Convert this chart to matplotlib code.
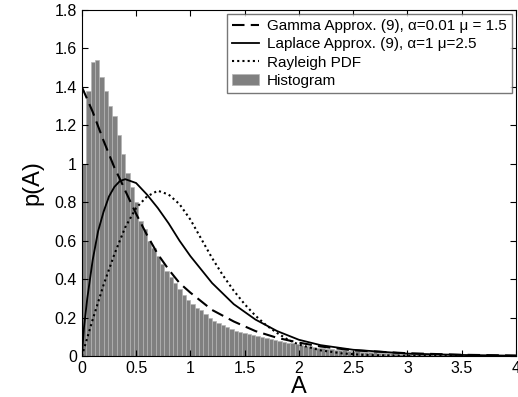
import numpy as np
import matplotlib
matplotlib.use("Agg")
import matplotlib.pyplot as plt

plt.rcParams['font.family'] = ['Liberation Sans', 'DejaVu Sans']

# histogram bar heights, bins of width 0.04 from 0 to 4
bin_width = 0.04
hist_heights = [
    1.00, 1.38, 1.53, 1.54, 1.45, 1.38, 1.30, 1.25, 1.15, 1.05,
    0.95, 0.88, 0.80, 0.70, 0.66, 0.60, 0.56, 0.52, 0.48, 0.44,
    0.41, 0.38, 0.35, 0.32, 0.29, 0.27, 0.25, 0.24, 0.22, 0.20,
    0.185, 0.17, 0.16, 0.15, 0.14, 0.13, 0.125, 0.12, 0.115, 0.11,
    0.105, 0.10, 0.095, 0.09, 0.085, 0.08, 0.075, 0.07, 0.066, 0.062,
    0.058, 0.054, 0.050, 0.047, 0.044, 0.041, 0.038, 0.036, 0.034, 0.032,
    0.030, 0.028, 0.026, 0.025, 0.023, 0.022, 0.020, 0.019, 0.018, 0.017,
    0.016, 0.015, 0.014, 0.013, 0.012, 0.012, 0.011, 0.010, 0.010, 0.009,
    0.009, 0.008, 0.008, 0.007, 0.007, 0.007, 0.006, 0.006, 0.006, 0.005,
    0.005, 0.005, 0.005, 0.004, 0.004, 0.004, 0.004, 0.003, 0.003, 0.003,
]

# Gamma approximation (dashed)
gamma_a = [0, 0.1, 0.2, 0.3, 0.36, 0.4, 0.5, 0.6, 0.7, 0.8, 0.9, 1.0, 1.2, 1.4,
           1.6, 1.8, 2.0, 2.2, 2.5, 3.0, 3.5, 4.0]
gamma_p = [1.40, 1.27, 1.12, 0.98, 0.91, 0.86, 0.74, 0.63, 0.53, 0.45, 0.38, 0.33,
           0.24, 0.18, 0.13, 0.095, 0.07, 0.05, 0.03, 0.015, 0.007, 0.003]

# Laplace approximation (solid)
lap_a = [0, 0.02, 0.05, 0.1, 0.15, 0.2, 0.25, 0.3, 0.35, 0.4, 0.5, 0.6, 0.7, 0.8,
         0.9, 1.0, 1.2, 1.4, 1.6, 1.8, 2.0, 2.2, 2.5, 3.0, 3.5, 4.0]
lap_p = [0, 0.15, 0.30, 0.50, 0.65, 0.75, 0.83, 0.88, 0.91, 0.92, 0.90, 0.84, 0.77,
         0.69, 0.60, 0.52, 0.38, 0.27, 0.19, 0.13, 0.085, 0.057, 0.033, 0.013, 0.006, 0.002]

# Rayleigh PDF (dotted)
ray_a = [0, 0.1, 0.2, 0.3, 0.4, 0.5, 0.6, 0.7, 0.8, 0.9, 1.0, 1.1, 1.2, 1.3, 1.4,
         1.5, 1.6, 1.7, 1.8, 1.9, 2.0, 2.2, 2.4, 2.6, 3.0, 4.0]
ray_p = [0, 0.19, 0.37, 0.53, 0.67, 0.77, 0.83, 0.86, 0.84, 0.79, 0.71, 0.61, 0.51,
         0.42, 0.34, 0.27, 0.21, 0.16, 0.12, 0.085, 0.06, 0.03, 0.014, 0.006, 0.001, 0]

fig = plt.figure(figsize=(5.18, 3.97), dpi=100)
ax = fig.add_axes([0.158, 0.103, 0.838, 0.872])

lefts = np.arange(len(hist_heights)) * bin_width
bars = ax.bar(lefts, hist_heights, width=bin_width, align='edge', color='#808080',
              edgecolor='#b4b4b4', linewidth=0.5)
l1, = ax.plot(gamma_a, gamma_p, color='black', linestyle=(0, (6, 3)), linewidth=1.5)
l2, = ax.plot(lap_a, lap_p, color='black', linestyle='-', linewidth=1.3)
l3, = ax.plot(ray_a, ray_p, color='black', linestyle=(0, (1, 1.5)), linewidth=1.5)

ax.set_xlim(0, 4)
ax.set_ylim(0, 1.8)
ax.set_xticks(np.arange(0, 4.01, 0.5))
ax.set_xticklabels(['0', '0.5', '1', '1.5', '2', '2.5', '3', '3.5', '4'])
ax.set_yticks(np.arange(0, 1.81, 0.2))
ax.set_yticklabels(['0', '0.2', '0.4', '0.6', '0.8', '1', '1.2', '1.4', '1.6', '1.8'])
ax.tick_params(direction='in', top=True, right=True, labelsize=11.5, length=4)
ax.set_xlabel('A', fontsize=17, labelpad=0)
ax.set_ylabel('p(A)', fontsize=17, labelpad=8)

ax.legend([l1, l2, l3, bars],
          ['Gamma Approx. (9), α=0.01 μ = 1.5', 'Laplace Approx. (9), α=1 μ=2.5',
           'Rayleigh PDF', 'Histogram'],
          loc='upper right', fontsize=11, frameon=True, fancybox=False,
          edgecolor='#555555', borderpad=0.35, labelspacing=0.28,
          handlelength=1.8, handletextpad=0.5, borderaxespad=0.25)

fig.savefig('out.png', dpi=100)
